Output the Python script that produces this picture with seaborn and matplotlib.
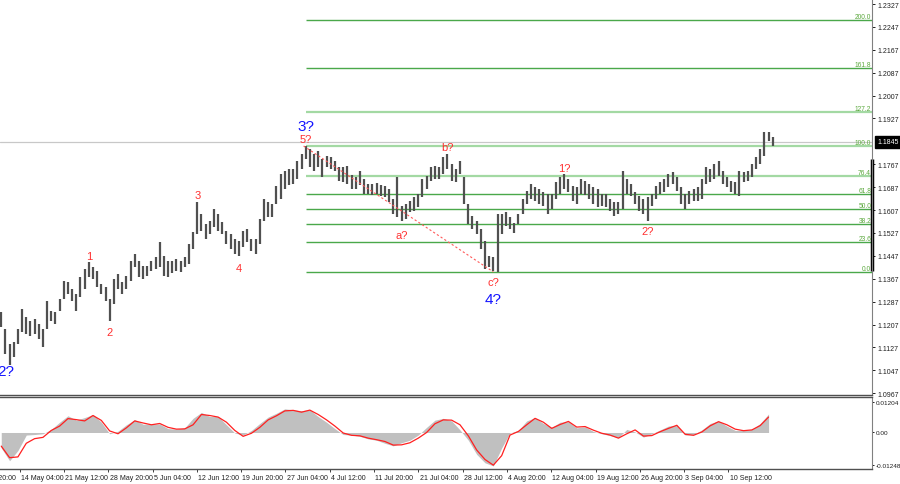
import numpy as np
import matplotlib
matplotlib.use('Agg')
import matplotlib.pyplot as plt
import matplotlib.transforms as mtransforms
import seaborn as sns

# 12-hour bars (high / low)
highs = [1.1251, 1.1192, 1.1139, 1.1146, 1.1192, 1.1261, 1.1233, 1.1219, 1.1226, 1.1209,
         1.1192, 1.1289, 1.1254, 1.1251, 1.1296, 1.1359, 1.1356, 1.1331, 1.1314, 1.1373,
         1.1401, 1.1426, 1.1408, 1.1394, 1.1349, 1.1338, 1.1296, 1.1366, 1.1384, 1.1356,
         1.1377, 1.1429, 1.1454, 1.1429, 1.1412, 1.1412, 1.1429, 1.1443, 1.1495, 1.1447,
         1.1429, 1.1429, 1.1436, 1.1429, 1.1443, 1.1488, 1.1530, 1.1635, 1.1593, 1.1558,
         1.1569, 1.1611, 1.1593, 1.1565, 1.1534, 1.1523, 1.1506, 1.1499, 1.1534, 1.1541,
         1.1506, 1.1506, 1.1576, 1.1646, 1.1635, 1.1628, 1.1691, 1.1733, 1.1744, 1.1750,
         1.1750, 1.1778, 1.1803, 1.1831, 1.1820, 1.1803, 1.1813, 1.1785, 1.1796, 1.1792,
         1.1778, 1.1757, 1.1757, 1.1761, 1.1730, 1.1723, 1.1744, 1.1716, 1.1698, 1.1698,
         1.1702, 1.1695, 1.1691, 1.1681, 1.1646, 1.1723, 1.1621, 1.1628, 1.1639, 1.1653,
         1.1663, 1.1716, 1.1726, 1.1757, 1.1761, 1.1757, 1.1792, 1.1803, 1.1768, 1.1750,
         1.1778, 1.1723, 1.1628, 1.1586, 1.1569, 1.1541, 1.1499, 1.1447, 1.1443, 1.1593,
         1.1593, 1.1600, 1.1583, 1.1562, 1.1593, 1.1646, 1.1674, 1.1698, 1.1688, 1.1681,
         1.1670, 1.1663, 1.1663, 1.1705, 1.1723, 1.1733, 1.1716, 1.1691, 1.1688, 1.1716,
         1.1709, 1.1698, 1.1688, 1.1681, 1.1663, 1.1663, 1.1646, 1.1635, 1.1635, 1.1744,
         1.1716, 1.1698, 1.1670, 1.1656, 1.1646, 1.1653, 1.1663, 1.1691, 1.1705, 1.1716,
         1.1733, 1.1740, 1.1723, 1.1688, 1.1663, 1.1674, 1.1681, 1.1688, 1.1716, 1.1757,
         1.1750, 1.1768, 1.1778, 1.1744, 1.1723, 1.1709, 1.1705, 1.1744, 1.1740, 1.1744,
         1.1768, 1.1792, 1.1820, 1.1880, 1.1880, 1.1862]
lows = [1.1198, 1.1104, 1.1066, 1.1094, 1.1139, 1.1181, 1.1174, 1.1167, 1.1174, 1.1157,
        1.1129, 1.1192, 1.1219, 1.1209, 1.1254, 1.1296, 1.1314, 1.1289, 1.1254, 1.1303,
        1.1331, 1.1373, 1.1366, 1.1338, 1.1314, 1.1289, 1.1219, 1.1279, 1.1331, 1.1314,
        1.1331, 1.1359, 1.1408, 1.1373, 1.1366, 1.1377, 1.1394, 1.1401, 1.1408, 1.1377,
        1.1373, 1.1387, 1.1394, 1.1391, 1.1408, 1.1419, 1.1471, 1.1523, 1.1534, 1.1506,
        1.1523, 1.1548, 1.1534, 1.1523, 1.1488, 1.1471, 1.1454, 1.1447, 1.1478, 1.1495,
        1.1464, 1.1454, 1.1488, 1.1569, 1.1583, 1.1583, 1.1628, 1.1646, 1.1681, 1.1695,
        1.1698, 1.1716, 1.1750, 1.1785, 1.1757, 1.1744, 1.1757, 1.1723, 1.1757, 1.1750,
        1.1744, 1.1709, 1.1705, 1.1698, 1.1681, 1.1681, 1.1695, 1.1663, 1.1663, 1.1660,
        1.1663, 1.1656, 1.1653, 1.1635, 1.1593, 1.1583, 1.1569, 1.1576, 1.1600, 1.1604,
        1.1618, 1.1653, 1.1681, 1.1709, 1.1716, 1.1716, 1.1733, 1.1750, 1.1709, 1.1705,
        1.1733, 1.1628, 1.1558, 1.1541, 1.1523, 1.1471, 1.1401, 1.1408, 1.1394, 1.1391,
        1.1523, 1.1551, 1.1541, 1.1527, 1.1558, 1.1593, 1.1628, 1.1646, 1.1639, 1.1628,
        1.1621, 1.1593, 1.1611, 1.1646, 1.1663, 1.1681, 1.1670, 1.1639, 1.1628, 1.1663,
        1.1660, 1.1646, 1.1628, 1.1618, 1.1621, 1.1618, 1.1604, 1.1586, 1.1593, 1.1611,
        1.1663, 1.1656, 1.1628, 1.1604, 1.1593, 1.1569, 1.1621, 1.1646, 1.1663, 1.1670,
        1.1688, 1.1698, 1.1674, 1.1628, 1.1611, 1.1628, 1.1639, 1.1639, 1.1646, 1.1698,
        1.1705, 1.1716, 1.1726, 1.1698, 1.1688, 1.1670, 1.1663, 1.1656, 1.1705, 1.1709,
        1.1723, 1.1750, 1.1768, 1.1796, 1.1848, 1.1831]

# oscillator, one value per day
osc_hist = [-0.0060, -0.0110, -0.0070, -0.0010, -0.0008, -0.0005, 0.0012, 0.0040, 0.0065, 0.0048,
            0.0058, 0.0070, 0.0040, -0.0005, 0.0005, 0.0030, 0.0050, 0.0032, 0.0033, 0.0033,
            0.0015, 0.0013, 0.0018, 0.0055, 0.0078, 0.0062, 0.0062, 0.0030, -0.0002, -0.0010,
            0.0008, 0.0035, 0.0060, 0.0075, 0.0092, 0.0088, 0.0085, 0.0088, 0.0062, 0.0040,
            0.0015, -0.0008, -0.0010, -0.0015, -0.0025, -0.0030, -0.0042, -0.0052, -0.0040, -0.0030,
            -0.0010, 0.0020, 0.0048, 0.0055, 0.0045, 0.0010, -0.0030, -0.0085, -0.0118, -0.0130,
            -0.0060, -0.0002, 0.0008, 0.0045, 0.0058, 0.0035, 0.0020, 0.0040, 0.0042, 0.0018,
            0.0022, 0.0004, -0.0005, -0.0012, -0.0020, 0.0012, 0.0002, -0.0018, -0.0005, 0.0010,
            0.0025, 0.0028, -0.0010, -0.0008, 0.0010, 0.0035, 0.0045, 0.0025, 0.0008, 0.0008,
            0.0012, 0.0035, 0.0072]
osc_signal = [-0.0053, -0.0098, -0.0095, -0.0042, -0.0024, -0.0019, 0.0008, 0.0025, 0.0054, 0.0050,
              0.0045, 0.0066, 0.0047, 0.0006, -0.0005, 0.0018, 0.0045, 0.0037, 0.0030, 0.0035,
              0.0020, 0.0013, 0.0014, 0.0030, 0.0070, 0.0066, 0.0060, 0.0040, 0.0008, -0.0015,
              -0.0003, 0.0020, 0.0049, 0.0065, 0.0084, 0.0086, 0.0079, 0.0087, 0.0070, 0.0049,
              0.0025, -0.0002, -0.0011, -0.0013, -0.0022, -0.0028, -0.0035, -0.0049, -0.0048, -0.0040,
              -0.0022, 0.0000, 0.0034, 0.0049, 0.0048, 0.0030, -0.0013, -0.0068, -0.0105, -0.0127,
              -0.0090, -0.0010, 0.0004, 0.0030, 0.0055, 0.0040, 0.0016, 0.0031, 0.0043, 0.0021,
              0.0023, 0.0009, -0.0003, -0.0010, -0.0022, -0.0005, 0.0010, -0.0014, -0.0012, 0.0003,
              0.0016, 0.0028, -0.0007, -0.0011, 0.0002, 0.0026, 0.0042, 0.0030, 0.0013, 0.0007,
              0.0010, 0.0027, 0.0060]

date_labels = ['6 May 20:00', '14 May 04:00', '21 May 12:00', '28 May 20:00', '5 Jun 04:00',
               '12 Jun 12:00', '19 Jun 20:00', '27 Jun 04:00', '4 Jul 12:00', '11 Jul 20:00',
               '21 Jul 04:00', '28 Jul 12:00', '4 Aug 20:00', '12 Aug 04:00', '19 Aug 12:00',
               '26 Aug 20:00', '3 Sep 04:00', '10 Sep 12:00']
price_ticks = [1.2327, 1.2247, 1.2167, 1.2087, 1.2007, 1.1927, 1.1767, 1.1687, 1.1607,
               1.1527, 1.1447, 1.1367, 1.1287, 1.1207, 1.1127, 1.1047, 1.0967]
osc_ticks = [0.01204, 0.0, -0.01248]
osc_tick_labels = ['0.01204', '0.00', '-0.01248']
fib_levels = [0.0, 23.6, 38.2, 50.0, 61.8, 76.4, 100.0, 127.2, 161.8, 200.0]
current_price = 1.1845
fib_top_bar = 73      # 5? top
fib_bottom_bar = 119  # c? bottom

# (text, bar, anchor, offset in points, colour, size)
wave_labels = [('2?', 1, 'low', -12, 'blue', 11),
               ('1', 21, 'high', 4, 'red', 8),
               ('2', 26, 'low', -8, 'red', 8),
               ('3', 47, 'high', 5, 'red', 8),
               ('4', 57, 'low', -9, 'red', 8),
               ('5?', 73, 'high', 5, 'red', 8),
               ('3?', 73, 'high', 14.5, 'blue', 11),
               ('a?', 96, 'low', -10, 'red', 8),
               ('b?', 107, 'high', 5, 'red', 8),
               ('c?', 118, 'low', -8, 'red', 8),
               ('4?', 118, 'low', -20, 'blue', 11),
               ('1?', 135, 'high', 4, 'red', 8),
               ('2?', 155, 'low', -7, 'red', 8)]

sns.set_theme(style='white')
plt.rcParams['font.family'] = ['Liberation Sans', 'DejaVu Sans']

fig = plt.figure(figsize=(9, 4.85), dpi=100)
ax = fig.add_axes([0, 89 / 485, 872 / 900, 396 / 485])
ax2 = fig.add_axes([0, 15 / 485, 872 / 900, 72 / 485])

x_left, x_right = -0.3, 208.8
bar_x = np.arange(len(highs))

# price bars
ax.vlines(bar_x, lows, highs, color='#505050', lw=1.6, zorder=3)
ax.axhline(current_price, color='#c8c8c8', lw=0.9, zorder=1)

# fibonacci grid
fib_lo = lows[fib_bottom_bar]
fib_hi = highs[fib_top_bar]
for lvl in fib_levels:
    p = fib_lo + lvl / 100 * (fib_hi - fib_lo)
    light = lvl in (76.4, 100.0, 127.2)
    ax.hlines(p, fib_top_bar, x_right, colors='#a3d9a3' if light else '#4aa84a',
              lw=1.6 if light else 1.0, zorder=2)
    ax.text(x_right - 0.2, p, f'{lvl:.1f}', ha='right', va='bottom', fontsize=4.8,
            color='#5aa83c', zorder=4)

ax.plot([fib_top_bar - 0.5, fib_bottom_bar - 1], [fib_hi, fib_lo], color='#ff5a5a',
        lw=0.8, ls=(0, (2, 2)), zorder=4)

for txt, b, anchor, off, col, size in wave_labels:
    y = highs[b] if anchor == 'high' else lows[b]
    ax.annotate(txt, xy=(b, y), xytext=(0, off), textcoords='offset points',
                ha='center', va='center', fontsize=size,
                color='#ff3030' if col == 'red' else '#1414ff', zorder=5)

ax.set_xlim(x_left, x_right)
ax.set_ylim(1.09609, 1.23445)
ax.set_xticks([])
ax.yaxis.tick_right()
ax.set_yticks(price_ticks)
ax.set_yticklabels([f'{v:.4f}' for v in price_ticks])
ax.tick_params(axis='y', right=True, length=2, width=0.7, pad=2, labelsize=5,
               colors='#202020', direction='out')
for s in ['left', 'top']:
    ax.spines[s].set_visible(False)
ax.spines['right'].set_color('#808080')
ax.spines['right'].set_linewidth(0.8)
ax.spines['bottom'].set_color('#505050')
ax.spines['bottom'].set_linewidth(1.0)
ax.plot([1, 1], [0.313, 0.596], transform=ax.transAxes, color='black', lw=2.5,
        clip_on=False, solid_capstyle='butt')

trans = mtransforms.blended_transform_factory(ax.transAxes, ax.transData)
ax.text(1.006, current_price, f'{current_price:.4f}', transform=trans, ha='left',
        va='center', fontsize=5, color='white',
        bbox=dict(boxstyle='square,pad=0.3', fc='black', ec='black'))

# oscillator panel
osc_x = np.arange(len(osc_hist)) * 2
ax2.fill_between(osc_x, osc_hist, 0, color='#c0c0c0', lw=0, zorder=1)
sns.lineplot(x=osc_x, y=osc_signal, ax=ax2, color='#ff2020', lw=0.9, zorder=2)
ax2.set_xlim(x_left, x_right)
ax2.set_ylim(-0.0142, 0.0138)
ax2.yaxis.tick_right()
ax2.set_yticks(osc_ticks)
ax2.set_yticklabels(osc_tick_labels)
ax2.tick_params(axis='y', right=True, length=1.5, width=0.7, pad=1, labelsize=4.6,
                colors='#202020', direction='out')
ax2.set_ylabel('')
ax2.spines['left'].set_visible(False)
for s in ['top', 'bottom']:
    ax2.spines[s].set_color('#505050')
    ax2.spines[s].set_linewidth(1.0)
ax2.spines['right'].set_color('#808080')
ax2.spines['right'].set_linewidth(0.8)

tick_pos = 4.44 + 10.62 * (np.arange(len(date_labels)) - 1)
ax2.set_xticks([t for t in tick_pos if t >= 0])
ax2.set_xticklabels([])
ax2.tick_params(axis='x', bottom=True, length=2, width=0.7, color='#404040', direction='out')
trans2 = mtransforms.blended_transform_factory(ax2.transData, ax2.transAxes)
for t, lab in zip(tick_pos, date_labels):
    ax2.text(t + 0.3, -0.07, lab, transform=trans2, ha='left', va='top', fontsize=5,
             color='#202020', clip_on=False)

fig.savefig('out.png', dpi=100)
